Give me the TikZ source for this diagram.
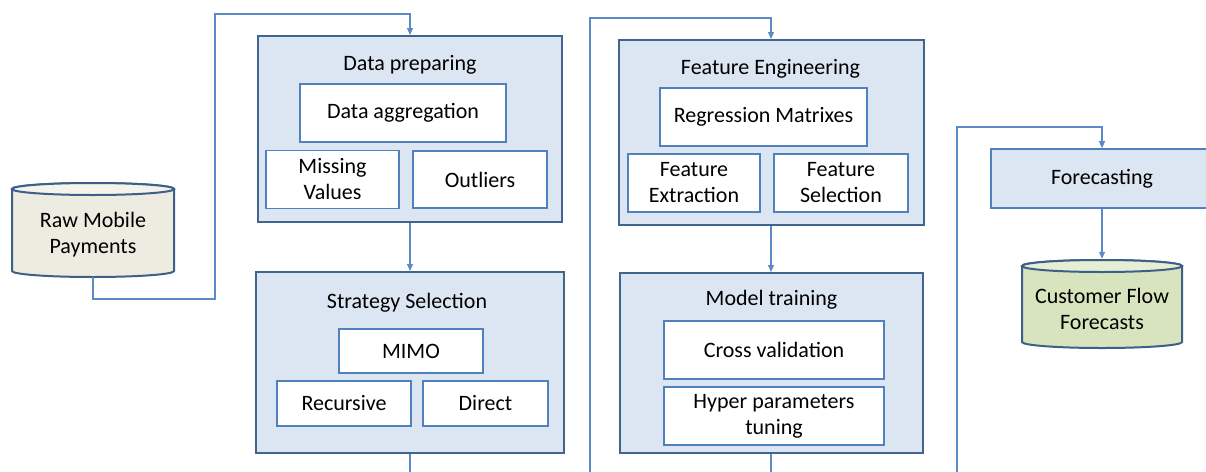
\documentclass[tikz,border=0pt]{standalone}
\usepackage{fontspec}
\setmainfont{Carlito}
\usetikzlibrary{arrows.meta}

\definecolor{panelfill}{HTML}{DCE6F2}
\definecolor{panelline}{HTML}{41658F}
\definecolor{itemline}{HTML}{4F81BD}
\definecolor{flowline}{HTML}{5B8AC6}
\definecolor{rawfill}{HTML}{EEECE1}
\definecolor{rawtop}{HTML}{F4F3EC}
\definecolor{outfill}{HTML}{D7E4BD}
\definecolor{outtop}{HTML}{E6EED5}
\definecolor{drumedge}{HTML}{3E5F88}

\tikzset{
  panel/.style={draw=panelline, line width=2pt, fill=panelfill},
  item/.style={draw=itemline, line width=1.6pt, fill=white, align=center,
    font=\fontsize{22}{26}\selectfont},
  title/.style={anchor=base, font=\fontsize{22}{26}\selectfont},
  store/.style={align=center, minimum width=160, font=\fontsize{22}{26}\selectfont},
  flow/.style={draw=flowline, line width=1.1pt, -{Triangle[length=7pt, width=6pt]}},
  drumline/.style={draw=drumedge, line width=2pt},
}

% drum: x, y, half width, half height, body colour, top colour
\newcommand{\drum}[6]{%
  \draw[drumline, fill=#5] (#1-#3, #2-#4+6) -- (#1-#3, #2+#4-6)
    arc[start angle=180, end angle=360, x radius=#3pt, y radius=6pt]
    -- (#1+#3, #2-#4+6)
    arc[start angle=0, end angle=180, x radius=#3pt, y radius=6pt] -- cycle;
  \draw[drumline, fill=#6] (#1, #2-#4+6) ellipse[x radius=#3pt, y radius=6pt];}

\begin{document}
\begin{tikzpicture}[x=1pt, y=-1pt]
  \clip (0,0) rectangle (1206,471);

  % stores
  \drum{93}{230}{81}{47}{rawfill}{rawtop}
  \node[store, minimum height=84] (raw) at (93,235) {Raw Mobile\\Payments};
  \drum{1102}{304}{80}{44}{outfill}{outtop}
  \node[store, minimum height=100] (cust) at (1102,309) {Customer Flow\\Forecasts};

  % data preparing
  \node[panel, minimum width=304, minimum height=186] (prep) at (410,129) {};
  \node[title] (prept) at (410,70) {Data preparing};
  \node[item, minimum width=206, minimum height=58] (agg) at (403,113) {Data aggregation};
  \node[item, minimum width=133, minimum height=58] (miss) at (332.5,179.5) {Missing\\Values};
  \node[item, minimum width=134, minimum height=57] (outl) at (480,179.5) {Outliers};

  % strategy selection
  \node[panel, minimum width=308, minimum height=181] (strat) at (410,362.5) {};
  \node[title] (stratt) at (407,308) {Strategy Selection};
  \node[item, minimum width=144, minimum height=44] (mimo) at (411,351) {MIMO};
  \node[item, minimum width=134, minimum height=45] (rec) at (344,403.5) {Recursive};
  \node[item, minimum width=125, minimum height=45] (dir) at (485.5,403.5) {Direct};

  % feature engineering
  \node[panel, minimum width=305, minimum height=185] (feat) at (771,132.5) {};
  \node[title] (featt) at (770.5,74) {Feature Engineering};
  \node[item, minimum width=207, minimum height=58] (regr) at (763.5,117) {Regression Matrixes};
  \node[item, minimum width=132, minimum height=58] (fext) at (694,183) {Feature\\Extraction};
  \node[item, minimum width=134, minimum height=58] (fsel) at (841,183) {Feature\\Selection};

  % model training
  \node[panel, minimum width=303, minimum height=180] (model) at (771,363) {};
  \node[title] (modelt) at (771.5,305) {Model training};
  \node[item, minimum width=220, minimum height=58] (cross) at (774,350) {Cross validation};
  \node[item, minimum width=220, minimum height=58] (hyper) at (774,416) {Hyper parameters\\tuning};

  % forecasting
  \node[item, fill=panelfill, minimum width=222, minimum height=59] (fore) at (1102,178.5) {Forecasting};

  % connectors
  \coordinate (bendA) at (215,299);
  \coordinate (bendB) at (215,14);
  \draw[flow] (raw.south) |- (bendA) -- (bendB) -| (prep.north);
  \draw[flow] (prep.south) -- (strat.north);
  \coordinate (bendC) at (590,490);
  \coordinate (bendD) at (590,18);
  \draw[flow] (strat.south) |- (bendC) -- (bendD) -| (feat.north);
  \draw[flow] (feat.south) -- (model.north);
  \coordinate (bendE) at (957,490);
  \coordinate (bendF) at (957,127);
  \draw[flow] (model.south) |- (bendE) -- (bendF) -| (fore.north);
  \draw[flow] (fore.south) -- (cust.north);
\end{tikzpicture}
\end{document}
